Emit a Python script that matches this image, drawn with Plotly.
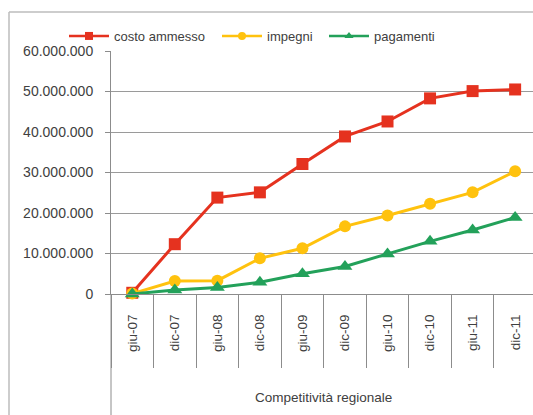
import plotly.graph_objects as go

# ---- data ----
categories = ["giu-07", "dic-07", "giu-08", "dic-08", "giu-09",
              "dic-09", "giu-10", "dic-10", "giu-11", "dic-11"]
costo_ammesso = [300000, 12300000, 23800000, 25100000, 32100000,
                 38900000, 42600000, 48300000, 50100000, 50500000]
impegni = [100000, 3200000, 3300000, 8800000, 11300000,
           16700000, 19400000, 22300000, 25100000, 30300000]
pagamenti = [0, 1000000, 1600000, 2900000, 5000000,
             6800000, 9900000, 13000000, 15800000, 18900000]
y_ticks = [0, 10000000, 20000000, 30000000, 40000000, 50000000, 60000000]
group_label = "Competitività regionale"
series_names = ["costo ammesso", "impegni", "pagamenti"]

# ---- geometry helpers ----
W, H = 533, 415
L, R, T, B = 111, 0, 51, 121
pw, ph = W - L - R, H - T - B


def px_x(px):
    return (px - L) / pw


def px_y(py):
    return (H - B - py) / ph


FONT = "Liberation Sans, Arial, sans-serif"
TXT = "#404040"
GRID = "#9a9a9a"
AX = "#8c8c8c"

styles = [
    dict(color="#e5321f", symbol="square", size=12),
    dict(color="#ffc20e", symbol="circle", size=12),
    dict(color="#23a15a", symbol="triangle-up", size=13),
]
values = [costo_ammesso, impegni, pagamenti]

fig = go.Figure()
for name, vals, st in zip(series_names, values, styles):
    fig.add_trace(go.Scatter(
        x=categories, y=vals, mode="lines+markers", name=name,
        line=dict(color=st["color"], width=3),
        marker=dict(symbol=st["symbol"], size=st["size"], color=st["color"]),
        showlegend=False, cliponaxis=False, hoverinfo="x+y+name",
    ))

legend_keys = ["legend", "legend2", "legend3"]
legend_left_px = [64, 217, 324]
for name, st, lk in zip(series_names, styles, legend_keys):
    fig.add_trace(go.Scatter(
        x=[None], y=[None], mode="lines+markers", name=name,
        line=dict(color=st["color"], width=2.5),
        marker=dict(symbol=st["symbol"], size=8, color=st["color"]),
        legend=lk, showlegend=True,
    ))

legend_common = dict(orientation="h", xanchor="left", yanchor="middle",
                     xref="container", yref="container",
                     bgcolor="rgba(0,0,0,0)", borderwidth=0,
                     font=dict(family=FONT, size=13, color=TXT),
                     itemwidth=40)
layout_legends = {}
for lk, lx in zip(legend_keys, legend_left_px):
    layout_legends[lk] = dict(legend_common, x=lx / W, y=1 - 36 / H)

fig.update_layout(
    width=W, height=H, autosize=False,
    margin=dict(l=L, r=R, t=T, b=B, pad=0, autoexpand=False),
    paper_bgcolor="white", plot_bgcolor="white",
    separators=",.",
    font=dict(family=FONT, size=13.5, color=TXT),
    **layout_legends,
    xaxis=dict(
        type="category", categoryorder="array", categoryarray=categories,
        range=[-0.5, 9.42], showgrid=False, zeroline=False, automargin=False,
        showline=True, linecolor=AX, linewidth=1,
        ticks="outside", tickson="boundaries", ticklen=73,
        tickcolor=AX, tickwidth=1,
        tickangle=-90, ticklabelstandoff=14,
        tickfont=dict(family=FONT, size=13.5, color=TXT),
    ),
    yaxis=dict(
        range=[0, 60000000], tickvals=y_ticks, tickformat=",",
        showgrid=True, gridcolor=GRID, gridwidth=1, zeroline=False,
        automargin=False,
        showline=True, linecolor=AX, linewidth=1,
        ticks="outside", ticklen=5, tickcolor=AX, tickwidth=1,
        ticklabelstandoff=9,
        tickfont=dict(family=FONT, size=14, color=TXT),
    ),
    shapes=[
        dict(type="line", xref="paper", yref="paper", x0=0, x1=0,
             y0=px_y(H), y1=0, line=dict(color=AX, width=1)),
        dict(type="line", xref="paper", yref="paper", x0=px_x(9), x1=px_x(9),
             y0=px_y(H), y1=px_y(12), line=dict(color="#bdbdbd", width=1.5)),
        dict(type="line", xref="paper", yref="paper", x0=px_x(9), x1=px_x(W),
             y0=px_y(12), y1=px_y(12), line=dict(color="#bdbdbd", width=1.5)),
    ],
    annotations=[
        dict(text=group_label, x=(len(categories) - 1) / 2, xref="x",
             y=px_y(397), yref="paper", showarrow=False,
             xanchor="center", yanchor="middle",
             font=dict(family=FONT, size=13.5, color=TXT)),
    ],
)

fig.write_html(
    "out.html",
    config={"displayModeBar": False},
    post_script="document.body.style.margin='0';document.body.style.padding='0';",
)
